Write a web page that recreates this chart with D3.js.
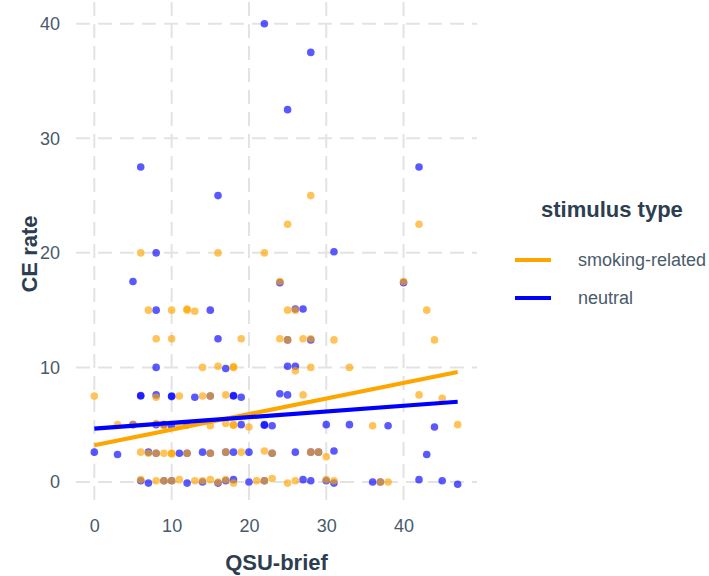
<!DOCTYPE html>
<html>
<head>
<meta charset="utf-8">
<script src="https://cdn.jsdelivr.net/npm/d3@7"></script>
<style>
  html, body { margin: 0; padding: 0; background: #ffffff; }
  svg { display: block; font-family: "Liberation Sans", Arial, sans-serif; }
</style>
</head>
<body>
<svg id="chart" width="709" height="576"></svg>
<script>
// ---- data ----
const seriesNames = ["smoking-related", "neutral"];
const seriesColors = ["#FFA500", "#0000FF"];

// smoking-related points: [QSU-brief, CE rate]
const smokingPoints = [
  [28,25],
  [25,22.5],[42,22.5],
  [6,20],[16,20],[22,20],
  [24,17.5],[40,17.5],
  [7,15],[10,15],[12,15],[12,15.1],[13,14.9],[25,15],[26,15],[43,15],
  [8,12.5],[10,12.5],[19,12.5],[24,12.5],[25,12.4],[27,12.5],[28,12.5],[31,12.4],[44,12.4],
  [14,10],[16,10.1],[18,10],[18,10.05],[26,9.7],[28,10],[33,10],
  [0,7.5],[8,7.4],[11,7.5],[14,7.5],[15,7.5],[17,7.6],[27,7.6],[42,7.6],[45,7.3],
  [3,5],[5,5],[8,5.1],[9,4.9],[11,5],[12,5],[15,4.9],[17,5.1],[18,5],[18,4.95],[20,4.8],[36,4.9],[47,5],
  [6,2.6],[7,2.5],[8,2.5],[9,2.5],[10,2.5],[10,2.45],[12,2.5],[15,2.5],[17,2.6],[19,2.6],[22,2.7],[23,2.5],[28,2.6],[29,2.6],[30,2.2],
  [6,0.2],[8,0.1],[9,0.1],[10,0.1],[11,0.2],[13,0.1],[14,0.1],[15,0.2],[16,0],[17,0.2],[18,-0.1],[21,0.1],[22,0.1],[23,0.3],[25,-0.1],[26,0.1],[30,0.2],[31,0.1],[37,0],[38,0]
];

// neutral points: [QSU-brief, CE rate]
const neutralPoints = [
  [22,40],
  [28,37.5],
  [25,32.5],
  [6,27.5],[42,27.5],
  [16,25],
  [8,20],[31,20.1],
  [5,17.5],[24,17.4],[40,17.4],
  [8,15],[15,15],[26,15.1],[27,15.1],
  [16,12.5],[25,12.4],[28,12.4],
  [8,10],[17,9.9],[25,10.1],[26,10.1],
  [6,7.5],[6,7.55],[8,7.6],[10,7.5],[10,7.45],[13,7.4],[15,7.5],[18,7.5],[18,7.55],[19,7.4],[24,7.7],[25,7.6],
  [5,5],[8,5],[9,5],[10,4.9],[12,5],[19,5],[22,5],[22,4.95],[23,4.9],[30,5],[33,5],[38,4.9],[44,4.8],
  [0,2.6],[3,2.4],[7,2.6],[8,2.5],[11,2.5],[12,2.5],[14,2.6],[15,2.5],[17,2.6],[18,2.6],[20,2.6],[23,2.5],[26,2.6],[28,2.6],[29,2.6],[31,2.7],[43,2.4],
  [6,0.1],[7,-0.1],[9,0.1],[10,0.1],[12,-0.1],[14,0],[16,-0.1],[17,0.1],[18,0.2],[20,0],[22,0.1],[27,0.2],[28,0.1],[30,0.1],[31,-0.1],[36,0],[37,0],[42,0.2],[45,0.1],[47,-0.2]
];

// fitted regression lines (endpoints)
const smokingTrend = [[0,3.2],[47,9.6]];
const neutralTrend = [[0,4.65],[47,7.0]];

const xTicks = [0,10,20,30,40];
const yTicks = [0,10,20,30,40];
const xTitle = "QSU-brief";
const yTitle = "CE rate";
const legendTitle = "stimulus type";

// ---- drawing ----
const svg = d3.select("#chart");
const panel = { left: 76, right: 477, top: 2, bottom: 506 };
const x = d3.scaleLinear().domain([-2.37, 49.5]).range([panel.left, panel.right]);
const y = d3.scaleLinear().domain([-2.1, 41.9]).range([panel.bottom, panel.top]);

const tickColor = "#4a5a6a";
const titleColor = "#2c3e50";
const gridColor = "#e3e3e3";

// grid
const grid = svg.append("g");
grid.selectAll("line.v").data(xTicks).join("line")
  .attr("x1", d => x(d)).attr("x2", d => x(d))
  .attr("y1", panel.top).attr("y2", panel.bottom)
  .attr("stroke", gridColor).attr("stroke-width", 2).attr("stroke-dasharray", "14,8");
grid.selectAll("line.h").data(yTicks).join("line")
  .attr("y1", d => y(d)).attr("y2", d => y(d))
  .attr("x1", panel.left).attr("x2", panel.right)
  .attr("stroke", gridColor).attr("stroke-width", 2).attr("stroke-dasharray", "14,8");

// axes via d3 axis generators (lines hidden, labels styled)
const xAxis = svg.append("g").attr("transform", `translate(0,${panel.bottom + 13})`)
  .call(d3.axisBottom(x).tickValues(xTicks).tickSize(0).tickPadding(0));
xAxis.select(".domain").remove();
xAxis.selectAll("text").attr("font-size", 18).attr("fill", tickColor)
  .attr("font-family", "Liberation Sans, Arial, sans-serif").attr("dy", "0.71em");

const yAxis = svg.append("g").attr("transform", `translate(${panel.left - 16},0)`)
  .call(d3.axisLeft(y).tickValues(yTicks).tickSize(0).tickPadding(0));
yAxis.select(".domain").remove();
yAxis.selectAll("text").attr("font-size", 18).attr("fill", tickColor)
  .attr("font-family", "Liberation Sans, Arial, sans-serif");

// axis titles
svg.append("text").attr("x", (panel.left + panel.right) / 2).attr("y", 570)
  .attr("text-anchor", "middle").attr("font-size", 22).attr("font-weight", "bold")
  .attr("fill", titleColor).text(xTitle);
svg.append("text").attr("transform", `translate(37,${(panel.top + panel.bottom) / 2}) rotate(-90)`)
  .attr("text-anchor", "middle").attr("font-size", 22).attr("font-weight", "bold")
  .attr("fill", titleColor).text(yTitle);

// points (neutral first, smoking-related drawn over it)
const pts = svg.append("g");
pts.selectAll("circle.n").data(neutralPoints).join("circle")
  .attr("class", "n")
  .attr("cx", d => x(d[0])).attr("cy", d => y(d[1])).attr("r", 3.8)
  .attr("fill", seriesColors[1]).attr("fill-opacity", 0.65);
pts.selectAll("circle.s").data(smokingPoints).join("circle")
  .attr("class", "s")
  .attr("cx", d => x(d[0])).attr("cy", d => y(d[1])).attr("r", 3.8)
  .attr("fill", seriesColors[0]).attr("fill-opacity", 0.65);

// trend lines
const line = d3.line().x(d => x(d[0])).y(d => y(d[1]));
svg.append("path").datum(smokingTrend).attr("d", line)
  .attr("stroke", seriesColors[0]).attr("stroke-width", 4.2).attr("fill", "none");
svg.append("path").datum(neutralTrend).attr("d", line)
  .attr("stroke", seriesColors[1]).attr("stroke-width", 4.2).attr("fill", "none");

// legend
const lg = svg.append("g");
lg.append("text").attr("x", 541).attr("y", 217).attr("font-size", 22).attr("font-weight", "bold")
  .attr("fill", titleColor).text(legendTitle);
const ly = d3.scalePoint().domain(seriesNames).range([260, 298]);
seriesNames.forEach((name, i) => {
  lg.append("line").attr("x1", 515).attr("x2", 551).attr("y1", ly(name)).attr("y2", ly(name))
    .attr("stroke", seriesColors[i]).attr("stroke-width", 4.2);
  lg.append("text").attr("x", 578).attr("y", ly(name)).attr("dy", "0.35em")
    .attr("font-size", 18).attr("fill", tickColor).text(name);
});
</script>
</body>
</html>
